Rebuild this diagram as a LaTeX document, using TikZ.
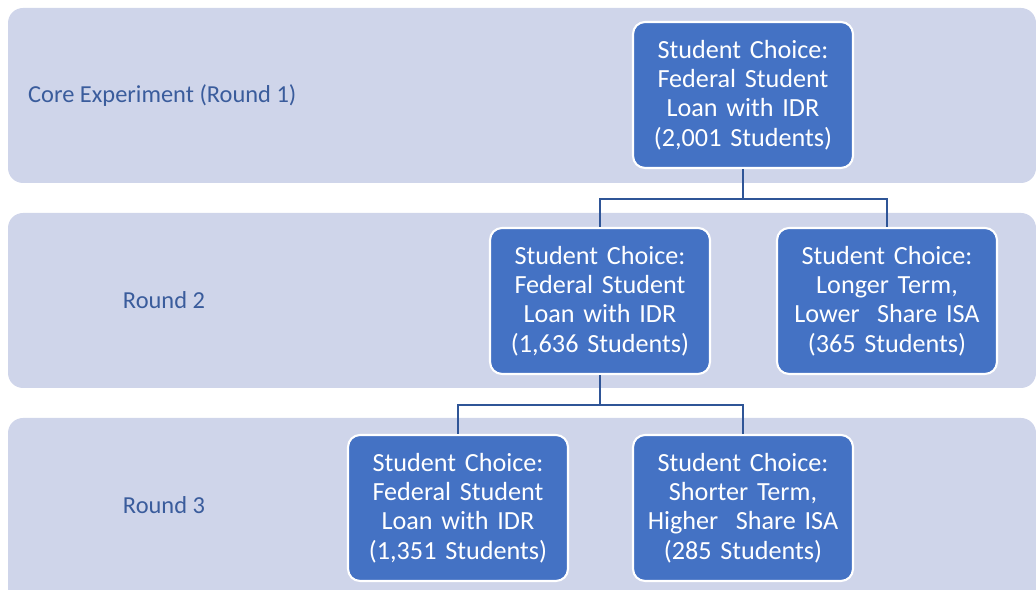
\documentclass[tikz,border=0pt]{standalone}
\usepackage{fontspec}
\setmainfont{Carlito}
\definecolor{bandfill}{HTML}{CFD5EA}
\definecolor{boxfill}{HTML}{4472C4}
\definecolor{linkcol}{HTML}{2F5597}
\definecolor{labcol}{HTML}{3A5C9C}
\tikzset{
  band/.style={fill=bandfill, rounded corners=15*0.02cm},
  choice/.style={draw=white, line width=1.2pt, fill=boxfill, text=white,
    rounded corners=12*0.02cm, minimum width=4.4cm, minimum height=2.92cm,
    text width=4.3cm, align=center, inner sep=0pt,
    font=\fontsize{14.9}{16.6}\selectfont},
  roundlab/.style={text=labcol, font=\fontsize{13.9}{16.5}\selectfont},
  link/.style={draw=linkcol, line width=1.1pt}
}
\begin{document}
\begin{tikzpicture}[x=0.02cm, y=-0.02cm]
\path[clip] (0,0) rectangle (1036,590);
% bands
\fill[band] (8,8) rectangle (1036,183);
\fill[band] (8,213) rectangle (1036,388);
\fill[band] (8,418) rectangle (1036,610);
\node[roundlab, anchor=west] (lab1) at (22,96) {Core Experiment (Round 1)};
\node[roundlab] (lab2) at (164,300) {Round 2};
\node[roundlab] (lab3) at (164,505) {Round 3};
% choices
\node[choice] (core) at (743,95) {Student Choice:\\ Federal Student\\ Loan with IDR\\ (2,001 Students)};
\node[choice] (r2loan) at (600,301) {Student Choice:\\ Federal Student\\ Loan with IDR\\ (1,636 Students)};
\node[choice] (r2isa) at (887,301) {Student Choice:\\ Longer Term,\\ Lower\ \ Share ISA\\ (365 Students)};
\node[choice] (r3loan) at (458,508) {Student Choice:\\ Federal Student\\ Loan with IDR\\ (1,351 Students)};
\node[choice] (r3isa) at (743,508) {Student Choice:\\ Shorter Term,\\ Higher\ \ Share ISA\\ (285 Students)};
% links
\draw[link] (core.south) -- ++(0,30) -| (r2loan.north);
\draw[link] (core.south) -- ++(0,30) -| (r2isa.north);
\draw[link] (r2loan.south) -- ++(0,30) -| (r3loan.north);
\draw[link] (r2loan.south) -- ++(0,30) -| (r3isa.north);
\end{tikzpicture}
\end{document}
